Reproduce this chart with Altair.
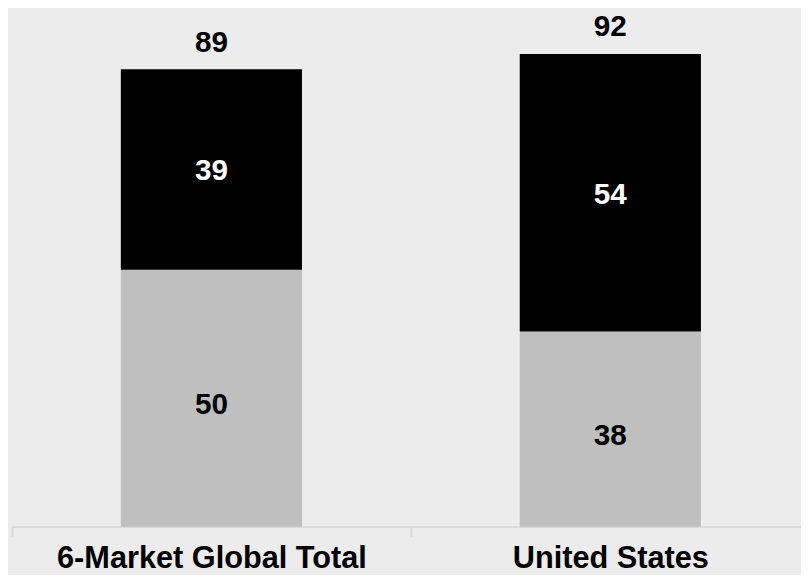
import altair as alt
import pandas as pd

categories = ["6-Market Global Total", "United States"]
segment_names = ["Lower", "Upper"]
lower_values = [50, 38]
upper_values = [39, 54]
totals = [89, 92]

rows = []
for i, c in enumerate(categories):
    rows.append({"idx": i, "category": c, "segment": segment_names[0], "order": 0, "value": lower_values[i]})
    rows.append({"idx": i, "category": c, "segment": segment_names[1], "order": 1, "value": upper_values[i]})
df = pd.DataFrame(rows)
tot = pd.DataFrame({"idx": list(range(len(categories))), "category": categories, "total": totals})

FONT = "Liberation Sans"

# category slots are one unit wide; the axis ticks sit at slot boundaries
x_scale = alt.Scale(domain=[-0.5, 1.478], nice=False, zero=False, padding=0)
label_expr = " : ".join(
    [f"datum.value < {i - 0.5 + 1} ? '{c}'" for i, c in enumerate(categories[:-1])] + [f"'{categories[-1]}'"]
)
x_axis = alt.Axis(
    values=[i - 0.5 for i in range(len(categories))],
    labelExpr=label_expr,
    labelAngle=0,
    labelFont=FONT,
    labelFontSize=31,
    labelFontWeight="bold",
    labelColor="#000000",
    labelLimit=1000,
    labelPadding=31,
    labelBaseline="alphabetic",
    labelAlign="center",
    labelOffset=201.5,
    labelFlush=False,
    labelOverlap=False,
    domainColor="#D9D9D9",
    domainWidth=2,
    tickColor="#D9D9D9",
    tickWidth=2,
    tickSize=10,
    grid=False,
)


def x_enc():
    return alt.X("idx:Q", title=None, scale=x_scale, axis=x_axis)


y_scale = alt.Scale(domain=[0, 100], padding=0)

bars = alt.Chart(df).mark_bar(width=183).encode(
    x=x_enc(),
    y=alt.Y("value:Q", stack="zero", scale=y_scale, axis=None),
    color=alt.Color(
        "segment:N",
        scale=alt.Scale(domain=segment_names, range=["#BFBFBF", "#000000"]),
        legend=None,
    ),
    order=alt.Order("order:Q"),
    detail="category:N",
)

stacked = (
    alt.Chart(df)
    .transform_stack(
        stack="value",
        as_=["y0", "y1"],
        groupby=["category"],
        sort=[alt.SortField("order", order="ascending")],
    )
    .transform_calculate(mid="(datum.y0 + datum.y1) / 2")
)

upper_labels = (
    stacked.transform_filter("datum.segment == 'Upper'")
    .mark_text(font=FONT, fontSize=30, fontWeight="bold", baseline="middle", dy=2, color="#FFFFFF")
    .encode(
        x=x_enc(),
        y=alt.Y("mid:Q", scale=y_scale, axis=None),
        text=alt.Text("value:Q"),
    )
)

lower_labels = (
    stacked.transform_filter("datum.segment == 'Lower'")
    .mark_text(font=FONT, fontSize=30, fontWeight="bold", baseline="middle", dy=7, color="#000000")
    .encode(
        x=x_enc(),
        y=alt.Y("mid:Q", scale=y_scale, axis=None),
        text=alt.Text("value:Q"),
    )
)

tot_labels = (
    alt.Chart(tot)
    .mark_text(font=FONT, fontSize=30, fontWeight="bold", baseline="alphabetic", dy=-18, color="#000000")
    .encode(
        x=x_enc(),
        y=alt.Y("total:Q", scale=y_scale, axis=None),
        text=alt.Text("total:Q"),
    )
)

chart = (
    alt.layer(bars, upper_labels, lower_labels, tot_labels)
    .properties(
        width=797,
        height=519,
        autosize="none",
        padding={"left": 4, "top": 2, "right": 0, "bottom": 46},
        background="#ECECEC",
    )
    .configure_view(strokeWidth=0)
)

chart.save("out.html", embed_options={"renderer": "svg", "actions": False})
